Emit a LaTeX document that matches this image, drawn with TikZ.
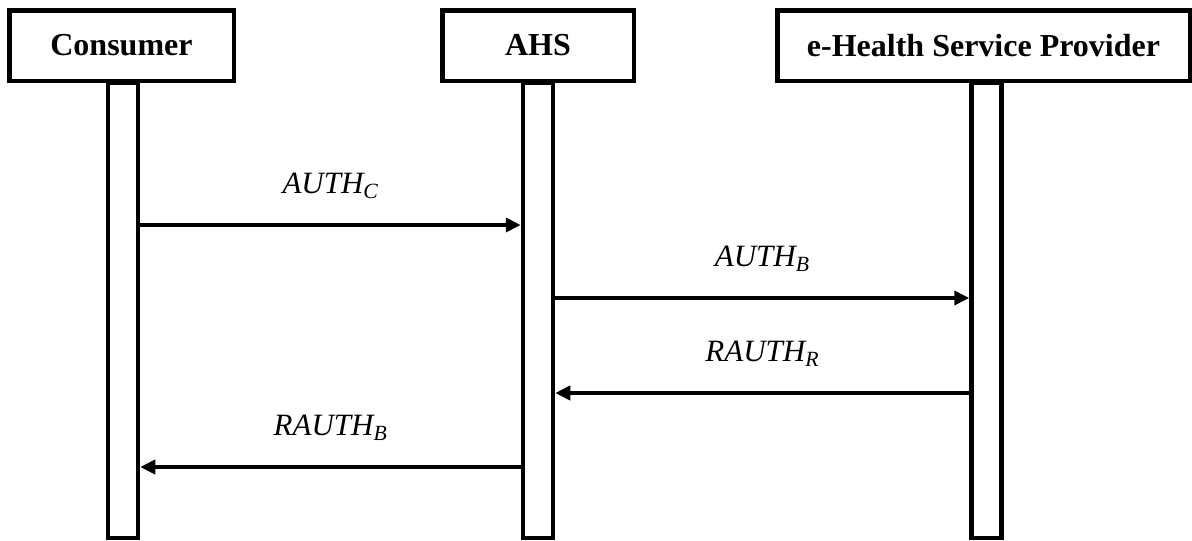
\documentclass[tikz,border=0pt]{standalone}
\usepackage{fontspec}
\setmainfont{Liberation Serif}
\usetikzlibrary{arrows.meta}
\begin{document}
\begin{tikzpicture}[x=1pt,y=-1pt,
  actor/.style={draw, line width=4.5pt, fill=white, inner sep=0pt,
    minimum height=70.5pt, font=\fontsize{32}{38}\selectfont\bfseries},
  lifeline/.style={draw, line width=4.5pt, fill=white, inner sep=0pt,
    minimum width=30pt, minimum height=455.5pt},
  msg/.style={line width=4.5pt, -{Triangle[length=15pt,width=14pt]}},
  msglabel/.style={font=\fontsize{31}{37}\selectfont\itshape,
    anchor=base, yshift=32pt}
]
\useasboundingbox (0,0) rectangle (1192,541);

% lifelines (drawn first, their tops hide under the participant boxes)
\node[lifeline] (cbar) at (123,310) {};
\node[lifeline] (abar) at (538,310) {};
\node[lifeline] (ebar) at (986.5,310) {};

% participants
\node[actor, minimum width=224.5pt] (cons) at (121.5,45.5) {Consumer};
\node[actor, minimum width=191.5pt] (ahs) at (538,45.5) {AHS};
\node[actor, minimum width=412.5pt] (prov) at (983.5,45.5) {e-Health Service Provider};

% messages
\draw[msg] (cbar.east |- 0,225) -- (abar.west |- 0,225)
  node[midway, msglabel] {AUTH\textsubscript{C}};
\draw[msg] (abar.east |- 0,298) -- (ebar.west |- 0,298)
  node[midway, msglabel] {AUTH\textsubscript{B}};
\draw[msg] (ebar.west |- 0,393) -- (abar.east |- 0,393)
  node[midway, msglabel] {RAUTH\textsubscript{R}};
\draw[msg] (abar.west |- 0,467) -- (cbar.east |- 0,467)
  node[midway, msglabel] {RAUTH\textsubscript{B}};
\end{tikzpicture}
\end{document}
